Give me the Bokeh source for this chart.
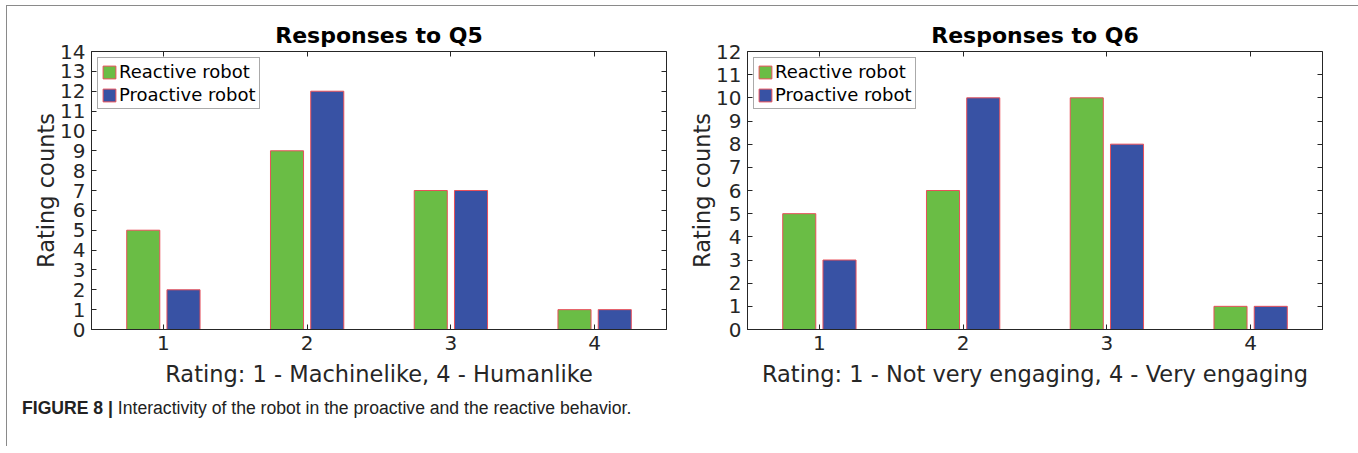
from bokeh.plotting import figure
from bokeh.models import (ColumnDataSource, Legend, LegendItem, LinearAxis,
                          FixedTicker, Range1d, Div)
from bokeh.layouts import row, column
from bokeh.embed import file_html
from bokeh.resources import INLINE
from bokeh.transform import dodge

# ---- data ----
ratings = [1, 2, 3, 4]
q5_reactive = [5, 9, 7, 1]
q5_proactive = [2, 12, 7, 1]
q6_reactive = [5, 6, 10, 1]
q6_proactive = [3, 10, 8, 1]
series_names = ["Reactive robot", "Proactive robot"]
titles = ["Responses to Q5", "Responses to Q6"]
xlabels = ["Rating: 1 - Machinelike, 4 - Humanlike",
           "Rating: 1 - Not very engaging, 4 - Very engaging"]
ymax = [14, 12]
caption_bold = "FIGURE 8 |"
caption_text = "Interactivity of the robot in the proactive and the reactive behavior."

GREEN = "#6abd45"
BLUE = "#3852a4"
EDGE = "#e8505a"
AX = "#262626"
FONT = "DejaVu Sans"


def make_plot(react, proact, title, xlabel, ym, width, border_left, border_right):
    src = ColumnDataSource(dict(x=ratings, r=react, p=proact))
    p = figure(width=width, height=390, output_backend="svg", toolbar_location=None,
               x_range=Range1d(0.5, 4.5), y_range=Range1d(0, ym),
               min_border_left=border_left, min_border_right=border_right,
               min_border_top=45, min_border_bottom=67)
    p.title.text = title
    p.title.text_font = FONT
    p.title.text_font_size = "22px"
    p.title.text_font_style = "bold"
    p.title.align = "center"
    p.title.text_color = "#000000"
    p.title.standoff = 8

    g1 = p.vbar(x=dodge("x", -0.14, range=p.x_range), top="r", width=0.23, source=src,
                fill_color=GREEN, line_color=EDGE, line_width=1)
    g2 = p.vbar(x=dodge("x", 0.14, range=p.x_range), top="p", width=0.23, source=src,
                fill_color=BLUE, line_color=EDGE, line_width=1)

    p.xgrid.visible = False
    p.ygrid.visible = False
    p.outline_line_color = AX
    p.outline_line_width = 1
    p.background_fill_color = "white"
    p.border_fill_color = "white"

    xt = FixedTicker(ticks=ratings)
    yt = FixedTicker(ticks=list(range(0, ym + 1)))
    for ax, tk in ((p.xaxis[0], xt), (p.yaxis[0], yt)):
        ax.ticker = tk
        ax.minor_tick_line_color = None
        ax.major_tick_in = 5
        ax.major_tick_out = 0
        ax.axis_line_color = AX
        ax.major_tick_line_color = AX
        ax.major_label_text_font = FONT
        ax.major_label_text_font_size = "20px"
        ax.major_label_text_color = AX
        ax.major_label_standoff = 6
        ax.axis_label_text_font = FONT
        ax.axis_label_text_font_size = "22.5px"
        ax.axis_label_text_font_style = "normal"
        ax.axis_label_text_color = AX
    p.xaxis[0].axis_label = xlabel
    p.xaxis[0].axis_label_standoff = 8
    p.yaxis[0].axis_label = "Rating counts"
    p.yaxis[0].axis_label_standoff = -2

    # box ticks on top and right (no labels drawn)
    for loc, tk in (("above", xt), ("right", yt)):
        a = LinearAxis(ticker=tk, major_tick_in=5, major_tick_out=0,
                       minor_tick_line_color=None, axis_line_color=None,
                       major_tick_line_color=AX, major_label_text_font_size="1px",
                       major_label_text_color=None, major_label_standoff=0)
        p.add_layout(a, loc)

    leg = Legend(items=[LegendItem(label=series_names[0], renderers=[g1]),
                        LegendItem(label=series_names[1], renderers=[g2])],
                 location="top_left", margin=6, padding=3, spacing=2,
                 glyph_width=16, glyph_height=16, label_standoff=2,
                 label_text_font=FONT, label_text_font_size="18px",
                 label_text_color="#000000", label_height=18,
                 border_line_color="#555555", border_line_width=1,
                 background_fill_color="white", background_fill_alpha=1)
    p.add_layout(leg, "center")
    return p


p1 = make_plot(q5_reactive, q5_proactive, titles[0], xlabels[0], ymax[0],
               width=660, border_left=84, border_right=1)
p2 = make_plot(q6_reactive, q6_proactive, titles[1], xlabels[1], ymax[1],
               width=684, border_left=80, border_right=29)

cap = Div(text=f'<span style="font-weight:bold">{caption_bold}</span> {caption_text}',
          width=1344, height=40,
          styles={"font-family": "'Liberation Sans', Arial, sans-serif",
                  "font-size": "17.6px", "color": "#222", "padding-left": "10px",
                  "padding-top": "0px", "line-height": "14px"})

layout = column(row(p1, p2), cap, margin=(5, 0, 0, 6),
                styles={"border-left": "1px solid #8a8a8a",
                        "border-top": "1px solid #8a8a8a",
                        "border-right": "1px solid #8a8a8a"})

open("out.html", "w").write(file_html(layout, INLINE))
